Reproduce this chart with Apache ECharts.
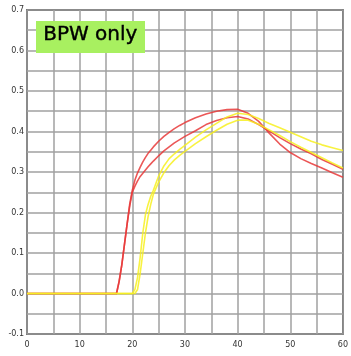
<!DOCTYPE html>
<html><head><meta charset="utf-8">
<script src="https://cdn.jsdelivr.net/npm/echarts@6/dist/echarts.min.js"></script>
<style>html,body{margin:0;padding:0;background:#fff}#c{width:351px;height:356px}</style>
</head><body><div id="c"></div>
<script>
var xs = [0,5,10,15,16,17,17.5,18,18.5,19,19.5,20,20.5,21,21.5,22,22.5,23,23.5,24,25,26,27,28,29,30,32,34,36,38,40,42,44,46,48,50,52,54,56,58,60];
var red1 = [0,0,0,0,0,0,0.03,0.07,0.12,0.17,0.22,0.255,0.28,0.298,0.312,0.325,0.336,0.346,0.354,0.362,0.376,0.388,0.398,0.407,0.415,0.422,0.434,0.443,0.45,0.454,0.455,0.445,0.425,0.396,0.369,0.348,0.333,0.321,0.31,0.298,0.287];
var red2 = [0,0,0,0,0,0,0.03,0.07,0.12,0.17,0.215,0.25,0.265,0.278,0.289,0.297,0.305,0.313,0.32,0.327,0.34,0.352,0.362,0.372,0.38,0.388,0.402,0.417,0.427,0.434,0.437,0.431,0.417,0.401,0.385,0.37,0.357,0.345,0.331,0.319,0.307];
var yellow1 = [0,0,0,0,0,0,0,0,0,0,0,0,0.01,0.04,0.09,0.15,0.195,0.22,0.24,0.255,0.29,0.315,0.333,0.345,0.356,0.366,0.386,0.404,0.42,0.436,0.445,0.442,0.432,0.42,0.409,0.398,0.387,0.376,0.367,0.36,0.353];
var yellow2 = [0,0,0,0,0,0,0,0,0,0,0,0,0,0.01,0.05,0.1,0.15,0.19,0.22,0.245,0.275,0.298,0.316,0.33,0.341,0.351,0.37,0.387,0.403,0.418,0.428,0.428,0.418,0.404,0.39,0.375,0.361,0.348,0.335,0.322,0.31];
var xTicks = [0,10,20,30,40,50,60];
var yTicks = [-0.1,0,0.1,0.2,0.3,0.4,0.5,0.6,0.7];
var labelText = 'BPW only';

function pairs(ys){ return xs.map(function(x,i){ return [x, ys[i]]; }); }
function mk(ys, color){
  return { type:'line', data:pairs(ys), showSymbol:false, smooth:false,
    lineStyle:{color:color, width:1.6, opacity:0.85, join:'round'}, z:5 };
}
var chart = echarts.init(document.getElementById('c'), null, {renderer:'canvas'});
chart.setOption({
  animation:false,
  grid:{left:27, right:1, top:10, bottom:22, show:true, borderColor:'#111', borderWidth:1.5, backgroundColor:'transparent'},
  xAxis:{type:'value', min:0, max:60, interval:5,
    axisLine:{show:false}, axisTick:{show:false},
    splitLine:{show:true, lineStyle:{color:'#a0a0a0', width:1.5}},
    axisLabel:{color:'#333', fontSize:8, fontFamily:'DejaVu Sans', margin:7,
      formatter:function(v){ return xTicks.indexOf(v) >= 0 ? String(v) : ''; }}
  },
  yAxis:{type:'value', min:-0.1, max:0.7, interval:0.05,
    axisLine:{show:false}, axisTick:{show:false},
    splitLine:{show:true, lineStyle:{color:'#a0a0a0', width:1.5}},
    axisLabel:{color:'#333', fontSize:8, fontFamily:'DejaVu Sans', margin:3,
      formatter:function(v){
        for (var i=0;i<yTicks.length;i++){ if (Math.abs(yTicks[i]-v)<1e-6) return yTicks[i].toFixed(1); }
        return '';
      }}
  },
  graphic:[
    {type:'rect', left:36, top:21, shape:{width:109, height:32}, style:{fill:'#a8f060'}, z:10},
    {type:'text', left:43, top:25, style:{text:labelText, fill:'#000', font:'500 20px "DejaVu Sans"', stroke:'#000', lineWidth:0.4}, z:11}
  ],
  series:[ mk(red1,'#e83a3a'), mk(red2,'#e83a3a'), mk(yellow1,'#f7f020'), mk(yellow2,'#f7f020') ]
});
</script></body></html>
